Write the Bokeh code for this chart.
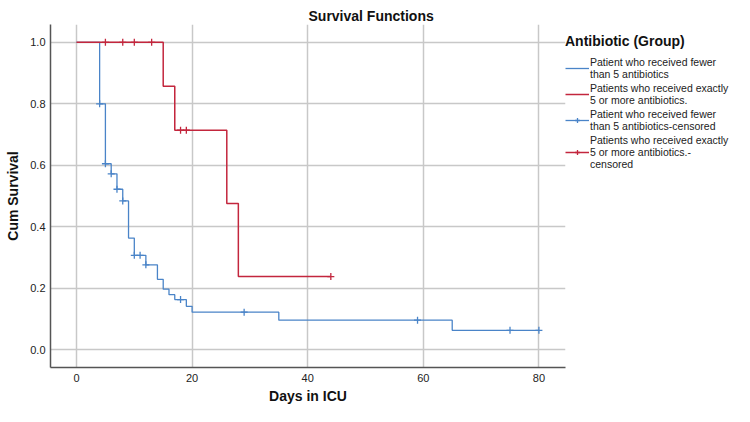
from bokeh.plotting import figure
from bokeh.models import Range1d, Legend, LegendItem, FixedTicker
from bokeh.embed import file_html
from bokeh.resources import INLINE

# ---- data ----
few_days = [0, 4, 5, 6, 7, 8, 9, 10, 12, 14, 15, 16, 17, 19, 20, 35, 65, 80]
few_surv = [1.0, 0.8, 0.605, 0.572, 0.522, 0.484, 0.363, 0.307, 0.276, 0.229,
            0.197, 0.179, 0.163, 0.141, 0.122, 0.096, 0.063, 0.063]
few_cens_days = [4, 5, 6, 7, 8, 10, 11, 12, 18, 29, 59, 75, 80]
few_cens_surv = [0.8, 0.605, 0.572, 0.522, 0.484, 0.307, 0.307, 0.276, 0.163,
                 0.122, 0.096, 0.063, 0.063]

more_days = [0, 15, 17, 26, 28, 44]
more_surv = [1.0, 0.857, 0.714, 0.476, 0.238, 0.238]
more_cens_days = [5, 8, 10, 13, 18, 19, 44]
more_cens_surv = [1.0, 1.0, 1.0, 1.0, 0.714, 0.714, 0.238]

x_ticks = [0, 20, 40, 60, 80]
y_ticks = [0.0, 0.2, 0.4, 0.6, 0.8, 1.0]
y_tick_labels = ["0.0", "0.2", "0.4", "0.6", "0.8", "1.0"]

legend_title = "Antibiotic (Group)"
labels = [
    "Patient who received fewer\nthan 5 antibiotics",
    "Patients who received exactly\n5 or more antibiotics.",
    "Patient who received fewer\nthan 5 antibiotics-censored",
    "Patients who received exactly\n5 or more antibiotics.-\ncensored",
]

BLUE = "#4a84c8"
RED = "#c3263d"
FONT = "Liberation Sans"

p = figure(frame_width=515, frame_height=343, x_range=Range1d(-4.5, 84.6),
           y_range=Range1d(-0.058, 1.058), output_backend="svg",
           toolbar_location=None, min_border_left=50, min_border_right=0,
           min_border_top=24, min_border_bottom=0)
p.outline_line_color = None
p.title.text = "Survival Functions"
p.title.align = "left"
p.title.offset = 258
p.title.standoff = 1
p.title.text_font = FONT
p.title.text_font_size = "14px"
p.title.text_font_style = "bold"
p.title.text_color = "#111111"

for ax in (p.xaxis, p.yaxis):
    ax.axis_line_color = "#555555"
    ax.axis_line_width = 1.5
    ax.major_tick_out = 0
    ax.major_tick_in = 0
    ax.minor_tick_out = 0
    ax.minor_tick_in = 0
    ax.major_tick_line_color = None
    ax.minor_tick_line_color = None
    ax.major_label_text_font = FONT
    ax.major_label_text_font_size = "11px"
    ax.major_label_text_color = "#222222"
    ax.axis_label_text_font = FONT
    ax.axis_label_text_font_size = "14px"
    ax.axis_label_text_font_style = "bold"
    ax.axis_label_text_color = "#111111"

p.xaxis.ticker = FixedTicker(ticks=x_ticks)
p.yaxis.ticker = FixedTicker(ticks=y_ticks)
p.yaxis.major_label_overrides = {t: l for t, l in zip(y_ticks, y_tick_labels)}
p.xaxis.axis_label = "Days in ICU"
p.yaxis.axis_label = "Cum Survival"
p.xaxis.major_label_standoff = 6
p.xaxis.axis_label_standoff = 3
p.yaxis.major_label_standoff = 5
p.yaxis.axis_label_standoff = 6

for g in (p.xgrid, p.ygrid):
    g.grid_line_color = "#c8c8c8"
    g.grid_line_width = 1.5

r1 = p.step(few_days, few_surv, mode="after", line_color=BLUE, line_width=1.3)
r2 = p.step(more_days, more_surv, mode="after", line_color=RED, line_width=1.5)
c1 = p.scatter(few_cens_days, few_cens_surv, marker="cross", size=7,
               line_color=BLUE, line_width=1.3)
c2 = p.scatter(more_cens_days, more_cens_surv, marker="cross", size=7,
               line_color=RED, line_width=1.3)

legend = Legend(items=[
    LegendItem(label=labels[0], renderers=[r1]),
    LegendItem(label=labels[1], renderers=[r2]),
    LegendItem(label=labels[2], renderers=[r1, c1]),
    LegendItem(label=labels[3], renderers=[r2, c2]),
], location=(0, 197))
legend.title = legend_title
legend.title_text_font = FONT
legend.title_text_font_size = "14px"
legend.title_text_font_style = "bold"
legend.title_text_color = "#111111"
legend.title_standoff = 7
legend.border_line_color = None
legend.background_fill_alpha = 0
legend.padding = 0
legend.margin = 0
legend.spacing = 2
legend.glyph_width = 24
legend.glyph_height = 12
legend.label_height = 12
legend.label_standoff = 1
legend.label_text_font = FONT
legend.label_text_font_size = "10.5px"
legend.label_text_line_height = 1.0
legend.label_text_color = "#222222"
p.add_layout(legend, "right")

open("out.html", "w").write(file_html(p, INLINE))
